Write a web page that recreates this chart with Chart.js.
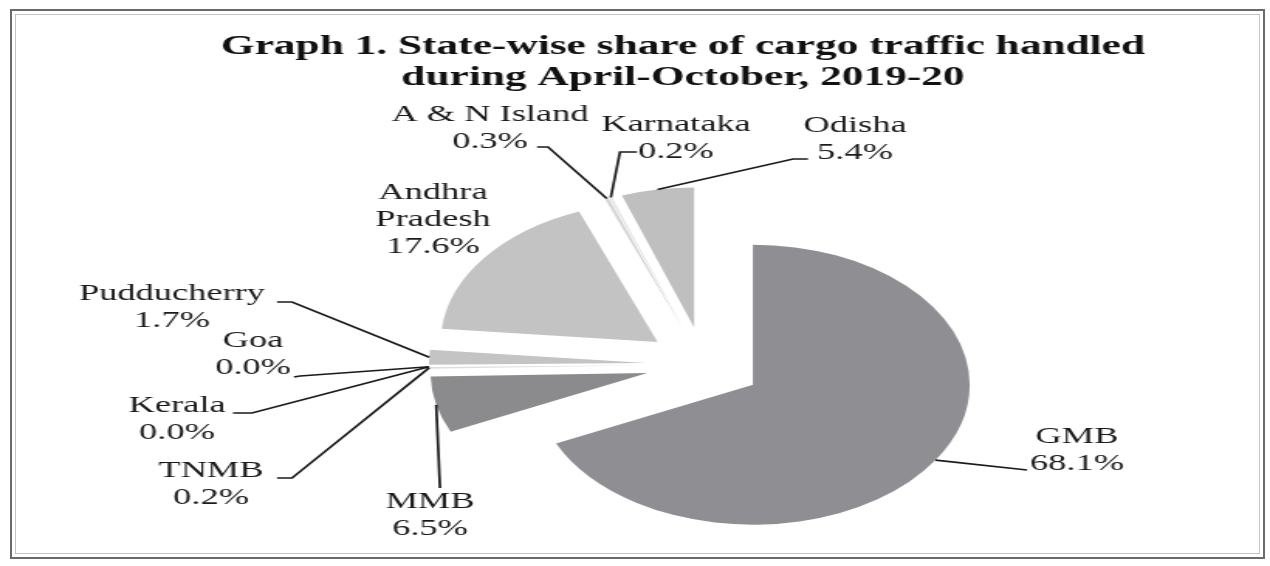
<!DOCTYPE html>
<html><head><meta charset="utf-8">
<script src="https://cdn.jsdelivr.net/npm/chart.js@4.4.1/dist/chart.umd.min.js"></script>
<style>
html,body{margin:0;padding:0;background:#fff;width:1270px;height:566px;overflow:hidden;}
#wrap{position:absolute;left:0;top:0;width:820px;height:566px;transform:scaleX(1.548780);transform-origin:0 0;}
#frame{position:absolute;left:10px;top:9px;width:1251px;height:546px;border:2px solid #6a6a6a;}
#frame2{position:absolute;left:15px;top:14px;width:1243px;height:538px;border:1px solid #c4c4c4;}
.probe{position:absolute;left:-9999px;top:0;font-family:"Liberation Serif";}
</style></head><body>
<span class="probe">Aa</span><span class="probe" style="font-weight:bold">Aa</span>
<div id="wrap"><canvas id="c" width="820" height="566"></canvas></div>
<div id="frame"></div><div id="frame2"></div>
<script>
// ---- data ----
const categories = ['GMB', 'MMB', 'TNMB', 'Kerala', 'Goa', 'Pudducherry', ['Andhra', 'Pradesh'], 'A & N Island', 'Karnataka', 'Odisha'];
const shares = [68.1, 6.5, 0.2, 0.0, 0.0, 1.7, 17.6, 0.3, 0.2, 5.4];
const sliceColors = ['#8f8f93', '#8b8b8d', '#dedede', '#d0d0d0', '#d0d0d0', '#c4c4c4', '#c3c3c3', '#d6d6d6', '#e6e6e6', '#bfbfbf'];
const titleLines = ['Graph 1. State-wise share of cargo traffic handled', 'during April-October, 2019-20'];

// ---- layout (page coordinates of the stretched picture) ----
const SX = 1270 / 820;
const EXPLODE = 37.5;
const LINE_H = 27;
const SERIF = '"Liberation Serif", Tinos, "Times New Roman", Times, serif';
const labelLayout = [
  {x: 1077, y: 437, path: [[1027, 470]]},              // GMB
  {x: 430,  y: 502, path: [[440, 488]]},               // MMB
  {x: 211,  y: 471, path: [[292, 478], [277, 478]]},   // TNMB
  {x: 177,  y: 406, path: [[252, 413], [233, 413]]},   // Kerala
  {x: 253,  y: 341, path: [[300, 376], [294, 377]]},   // Goa
  {x: 172,  y: 294, path: [[292, 302], [277, 302]]},   // Pudducherry
  {x: 433,  y: 193, path: []},                         // Andhra Pradesh
  {x: 490,  y: 115, path: [[548, 147], [537, 147]]},   // A & N Island
  {x: 676,  y: 125, path: [[620, 152], [637, 152]]},   // Karnataka
  {x: 855,  y: 126, path: [[793, 159], [808, 159]]}    // Odisha
];

const explodePlugin = {
  id: 'explode',
  beforeDatasetDraw(chart, args) {
    const ctx = chart.ctx;
    args.meta.data.forEach(arc => {
      const mid = (arc.startAngle + arc.endAngle) / 2;
      ctx.save();
      ctx.translate(Math.cos(mid) * EXPLODE, Math.sin(mid) * EXPLODE);
      arc.draw(ctx);
      ctx.restore();
    });
    return false;
  }
};

const labelPlugin = {
  id: 'labels',
  afterDraw(chart) {
    const ctx = chart.ctx;
    const meta = chart.getDatasetMeta(0);
    ctx.save();
    ctx.fillStyle = '#111';
    ctx.textAlign = 'center';
    ctx.textBaseline = 'middle';
    ctx.font = 'bold 28px ' + SERIF;
    titleLines.forEach((t, k) => ctx.fillText(t, 683 / SX, 47 + k * 31));
    ctx.font = '23.5px ' + SERIF;
    ctx.strokeStyle = '#1a1a1a';
    ctx.lineWidth = 1.7;
    meta.data.forEach((arc, i) => {
      const lay = labelLayout[i];
      const mid = (arc.startAngle + arc.endAngle) / 2;
      const r = EXPLODE + arc.outerRadius;
      const ax = arc.x + Math.cos(mid) * r;
      const ay = arc.y + Math.sin(mid) * r;
      if (lay.path.length) {
        ctx.beginPath();
        ctx.moveTo(ax, ay);
        lay.path.forEach(p => ctx.lineTo(p[0] / SX, p[1]));
        ctx.stroke();
      }
      const name = chart.data.labels[i];
      const lines = (Array.isArray(name) ? name.slice() : [name]);
      lines.push(chart.data.datasets[0].data[i].toFixed(1) + '%');
      ctx.fillStyle = '#1a1a1a';
      lines.forEach((t, k) => ctx.fillText(t, lay.x / SX, lay.y + k * LINE_H));
    });
    ctx.restore();
  }
};

function build() {
  new Chart(document.getElementById('c'), {
    type: 'pie',
    data: {
      labels: categories,
      datasets: [{
        data: shares,
        backgroundColor: sliceColors,
        borderWidth: 0
      }]
    },
    options: {
      responsive: false,
      animation: false,
      events: [],
      radius: 140,
      layout: {padding: {left: 100, right: 11, top: 190, bottom: 27}},
      plugins: {legend: {display: false}, tooltip: {enabled: false}, title: {display: false}}
    },
    plugins: [explodePlugin, labelPlugin]
  });
}

Promise.all([
  document.fonts.load('bold 28px "Liberation Serif"'),
  document.fonts.load('23.5px "Liberation Serif"')
]).then(build, build);
</script>
</body></html>
